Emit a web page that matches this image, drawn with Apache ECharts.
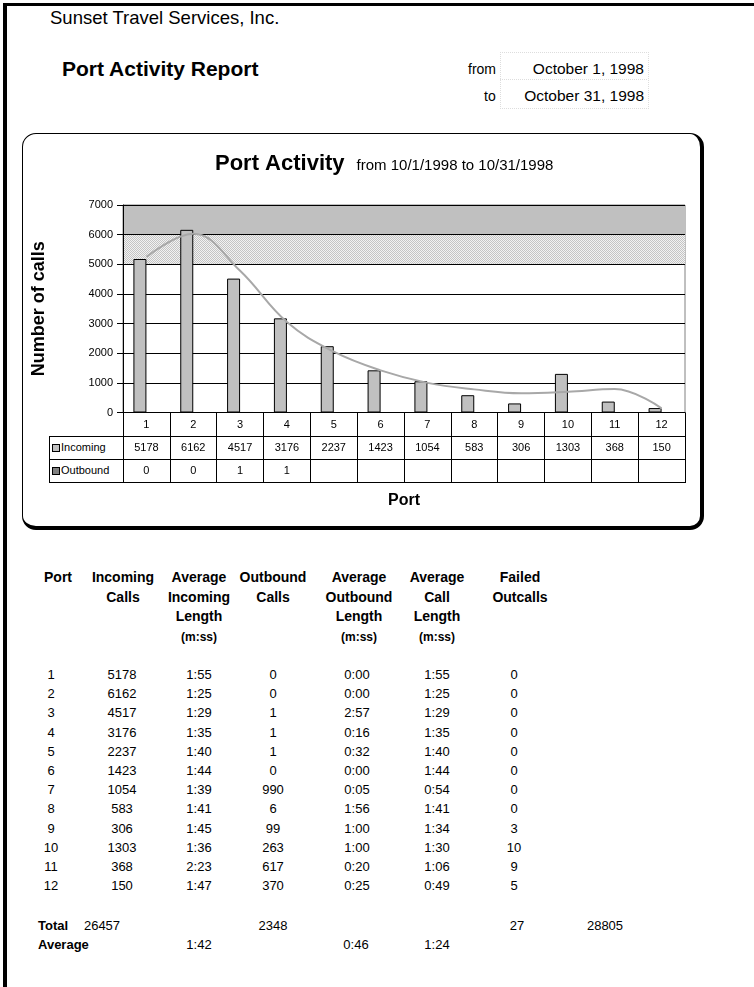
<!DOCTYPE html>
<html>
<head>
<meta charset="utf-8">
<script src="https://cdn.jsdelivr.net/npm/echarts@6/dist/echarts.min.js"></script>
<style>
  html, body { margin: 0; padding: 0; background: #fff; }
  .page { position: relative; width: 754px; height: 987px; overflow: hidden; font-family: "Liberation Sans", Arial, sans-serif; color: #000; }
  .abs { position: absolute; white-space: nowrap; color: #000; }
  .c { transform: translateX(-50%); text-align: center; }
  .hline { position: absolute; height: 1px; background: #000; }
  .vline { position: absolute; width: 1px; background: #000; }
  #chart { position: absolute; left: 0; top: 0; width: 754px; height: 987px; z-index: 2; }
  .box { position: absolute; left: 22px; top: 133px; width: 677px; height: 392px; border-style: solid; border-color: #000; border-width: 1px 4px 4px 1px; border-radius: 14px; }
  .key { position: absolute; width: 6px; height: 6px; border: 1px solid #000; }
  .hdr { font-weight: bold; font-size: 14px; line-height: 19.5px; text-align: center; }
  .cell { font-size: 13px; line-height: 16px; }
</style>
</head>
<body>
<div class="page" id="page">
  <div class="vline" style="left:3px;top:3px;height:984px;width:4px"></div>
  <div class="hline" style="left:3px;top:3px;width:751px;height:3px"></div>

  <div class="abs" style="left:50px;top:7px;font-size:18.5px;">Sunset Travel Services, Inc.</div>
  <div class="abs" style="left:62px;top:57px;font-size:21px;font-weight:bold;">Port Activity Report</div>
  <div class="abs" style="left:500px;top:52px;width:147px;height:55px;border:1px dotted #ddd;"></div>
  <div class="abs" style="left:500px;top:79px;width:147px;height:0;border-top:1px dotted #ddd;"></div>
  <div class="abs" style="left:468px;top:61px;font-size:14px;">from</div>
  <div class="abs" style="right:110px;top:60px;font-size:15.5px;">October 1, 1998</div>
  <div class="abs" style="left:484px;top:88px;font-size:14px;">to</div>
  <div class="abs" style="right:110px;top:87px;font-size:15.5px;">October 31, 1998</div>

  <div class="box"></div>

  <!-- data table rows under the category axis -->
  <div class="hline" style="left:49px;top:436px;width:637px"></div>
  <div class="hline" style="left:49px;top:459px;width:637px"></div>
  <div class="hline" style="left:49px;top:482px;width:637px"></div>
  <div class="vline" style="left:49px;top:436px;height:47px"></div>
  <div class="key" style="left:52px;top:444px;background:#c0c0c0"></div>
  <div class="abs" style="left:61px;top:441px;font-size:11px;">Incoming</div>
  <div class="key" style="left:52px;top:467px;background:#808080"></div>
  <div class="abs" style="left:61px;top:464px;font-size:11px;">Outbound</div>

  <div id="tbl"></div>
</div>
<div id="chart"></div>
<script>
// chart data
const ports = ['1', '2', '3', '4', '5', '6', '7', '8', '9', '10', '11', '12'];
const incoming = [5178, 6162, 4517, 3176, 2237, 1423, 1054, 583, 306, 1303, 368, 150];
const outbound = [0, 0, 1, 1, null, null, null, null, null, null, null, null];
// trend line at each port
const trend = [5250, 6030, 4780, 3050, 2050, 1420, 1000, 780, 650, 700, 790, 140];

// report table data
const avgIncoming = ['1:55', '1:25', '1:29', '1:35', '1:40', '1:44', '1:39', '1:41', '1:45', '1:36', '2:23', '1:47'];
const outboundCalls = [0, 0, 1, 1, 1, 0, 990, 6, 99, 263, 617, 370];
const avgOutbound = ['0:00', '0:00', '2:57', '0:16', '0:32', '0:00', '0:05', '1:56', '1:00', '1:00', '0:20', '0:25'];
const avgCall = ['1:55', '1:25', '1:29', '1:35', '1:40', '1:44', '0:54', '1:41', '1:34', '1:30', '1:06', '0:49'];
const failed = [0, 0, 0, 0, 0, 0, 0, 0, 3, 10, 9, 5];
const totalRow = ['26457', '2348', '27', '28805'];
const averageRow = ['1:42', '0:46', '1:24'];

// --- report table (html) ---
const tbl = document.getElementById('tbl');
function put(text, x, y, cls, extra) {
    const d = document.createElement('div');
    d.className = 'abs ' + (cls || '');
    d.style.left = x + 'px';
    d.style.top = y + 'px';
    if (extra) d.style.cssText += extra;
    d.innerHTML = text;
    tbl.appendChild(d);
}
const headers = [
    ['Port', 58],
    ['Incoming<br>Calls', 123],
    ['Average<br>Incoming<br>Length<br><span style="font-size:12px">(m:ss)</span>', 199],
    ['Outbound<br>Calls', 273],
    ['Average<br>Outbound<br>Length<br><span style="font-size:12px">(m:ss)</span>', 359],
    ['Average<br>Call<br>Length<br><span style="font-size:12px">(m:ss)</span>', 437],
    ['Failed<br>Outcalls', 520]
];
headers.forEach(h => put(h[0], h[1], 568, 'hdr c'));

const colX = [51, 122, 199, 273, 357, 437, 514];
ports.forEach((p, i) => {
    const y = 667 + i * 19.2;
    const row = [p, incoming[i], avgIncoming[i], outboundCalls[i], avgOutbound[i], avgCall[i], failed[i]];
    row.forEach((v, j) => put(String(v), colX[j], y, 'cell c'));
});
put('Total', 38, 918, 'cell', 'font-weight:bold');
[102, 273, 517, 605].forEach((x, j) => put(totalRow[j], x, 918, 'cell c'));
put('Average', 38, 937, 'cell', 'font-weight:bold');
[199, 356, 437].forEach((x, j) => put(averageRow[j], x, 937, 'cell c'));

// --- chart ---
const pat = document.createElement('canvas');
pat.width = 2; pat.height = 2;
const pc = pat.getContext('2d');
pc.fillStyle = '#f2f2f2'; pc.fillRect(0, 0, 2, 2);
pc.fillStyle = '#c4c4c4'; pc.fillRect(0, 0, 1, 1); pc.fillRect(1, 1, 1, 1);

const myChart = echarts.init(document.getElementById('chart'));
const font = '"Liberation Sans", Arial, sans-serif';
const option = {
    animation: false,
    textStyle: { fontFamily: font, color: '#000' },
    title: {
        left: 210,
        top: 148,
        text: '{a|Port Activity}{b|from 10/1/1998 to 10/31/1998}',
        textStyle: {
            rich: {
                a: { fontSize: 22, fontWeight: 'bold', color: '#000', fontFamily: font },
                b: { fontSize: 15, fontWeight: 'normal', color: '#000', padding: [3, 0, 0, 12], fontFamily: font }
            }
        }
    },
    grid: {
        left: 123,
        top: 205,
        width: 562,
        height: 207.5,
        show: true,
        borderColor: '#808080',
        borderWidth: 1,
        backgroundColor: 'transparent'
    },
    xAxis: {
        type: 'category',
        data: ports,
        name: 'Port',
        nameLocation: 'middle',
        nameGap: 80,
        nameTextStyle: { fontSize: 16, fontWeight: 'bold', color: '#000' },
        axisLine: { lineStyle: { color: '#000', width: 1 } },
        axisTick: { show: true, length: 70, lineStyle: { color: '#000' } },
        axisLabel: {
            margin: 0,
            interval: 0,
            formatter: (v, i) => '{c|' + v + '}\n{d|' + incoming[i] + '}\n{d|' + (outbound[i] == null ? ' ' : outbound[i]) + '}',
            rich: {
                c: { fontSize: 11, lineHeight: 24, color: '#000' },
                d: { fontSize: 11, lineHeight: 23, color: '#000' }
            }
        }
    },
    yAxis: {
        type: 'value',
        min: 0,
        max: 7000,
        interval: 1000,
        name: 'Number of calls',
        nameLocation: 'middle',
        nameGap: 75,
        nameTextStyle: { fontSize: 18, fontWeight: 'bold', color: '#000' },
        axisLine: { show: true, lineStyle: { color: '#000' } },
        axisTick: { show: true, length: 6, lineStyle: { color: '#000' } },
        axisLabel: { fontSize: 11, margin: 10, color: '#000', formatter: v => String(v) },
        splitLine: { lineStyle: { color: '#000', width: 1 } },
        splitArea: {
            show: true,
            areaStyle: {
                color: ['rgba(0,0,0,0)', 'rgba(0,0,0,0)', 'rgba(0,0,0,0)', 'rgba(0,0,0,0)', 'rgba(0,0,0,0)',
                    { image: pat, repeat: 'repeat' }, '#c0c0c0']
            }
        }
    },
    series: [{
        name: 'Incoming',
        type: 'bar',
        data: incoming,
        barWidth: 13,
        barGap: '0%',
        itemStyle: { color: '#c0c0c0', borderColor: '#000', borderWidth: 1 }
    }, {
        name: 'Outbound',
        type: 'bar',
        data: outbound,
        barWidth: 13,
        itemStyle: { color: '#808080', borderColor: '#000', borderWidth: 1 }
    }, {
        name: 'Trend',
        type: 'line',
        data: trend,
        smooth: 0.4,
        showSymbol: false,
        lineStyle: { color: '#a8a8a8', width: 2 },
        z: 5
    }]
};
myChart.setOption(option);
</script>
</body>
</html>
